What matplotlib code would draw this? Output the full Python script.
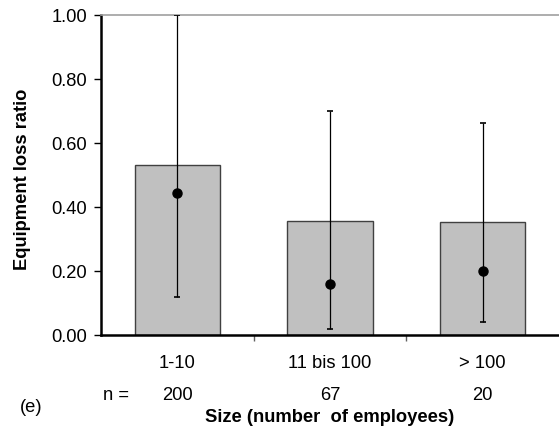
import numpy as np
import matplotlib.pyplot as plt

# -------------------- Dados
CATEGORIAS = ["1-10", "11 bis 100", "> 100"]
N_AMOSTRA = ["200", "67", "20"]
MEDIA = [0.53, 0.355, 0.352]       # altura das barras
MEDIANA = [0.445, 0.16, 0.20]      # pontos
ERR_BAIXO = [0.12, 0.02, 0.04]
ERR_ALTO = [1.00, 0.70, 0.663]

FS = 13.2
plt.rcParams.update({
    "font.family": ["Liberation Sans", "DejaVu Sans"],
    "font.size": FS,
})

fig = plt.figure(figsize=(5.59, 4.34), dpi=100)
ax = fig.add_axes([101 / 559, 1 - 335 / 434, 458 / 559, 320 / 434])

x = np.arange(len(CATEGORIAS)) + 0.5
ax.bar(x, MEDIA, width=0.56, color="#C0C0C0", edgecolor="#404040", linewidth=1.0, zorder=2)

med = np.array(MEDIANA)
yerr = np.vstack([med - np.array(ERR_BAIXO), np.array(ERR_ALTO) - med])
ax.errorbar(x, med, yerr=yerr, fmt="o", color="black", ms=6.5,
            ecolor="black", elinewidth=0.9, capsize=2.5, capthick=1.2, zorder=3)

ax.set_xlim(0, 3)
ax.set_ylim(0, 1.0)
ax.set_yticks(np.arange(0, 1.01, 0.2))
ax.set_yticklabels([f"{v:.2f}" for v in np.arange(0, 1.01, 0.2)])
ax.set_xticks([1, 2])
ax.set_xticklabels([])
ax.tick_params(axis="y", direction="out", length=5, width=1, pad=5)
ax.tick_params(axis="x", direction="out", length=4, width=1, color="#606060")

ax.spines["right"].set_visible(False)
ax.spines["top"].set_color("#A0A0A0")
ax.spines["top"].set_linewidth(1.2)
ax.spines["left"].set_linewidth(1.8)
ax.spines["bottom"].set_linewidth(1.8)

# rótulos das categorias e n
tr = ax.get_xaxis_transform()
for xi, cat, n in zip(x, CATEGORIAS, N_AMOSTRA):
    ax.text(xi, -(364 - 335) / 320, cat, ha="center", va="center", transform=tr)
    ax.text(xi, -(395 - 335) / 320, n, ha="center", va="center", transform=tr)
ax.text(0.1, -(395 - 335) / 320, "n =", ha="center", va="center", transform=tr)

fig.text(31 / 559, 1 - 407 / 434, "(e)", ha="center", va="center")
fig.text(330 / 559, 1 - 417 / 434, "Size (number  of employees)", ha="center", va="center",
         fontweight="bold")
fig.text(23 / 559, 1 - 179 / 434, "Equipment loss ratio", rotation=90, ha="center", va="center",
         fontweight="bold")

fig.savefig("out.png", dpi=100)
